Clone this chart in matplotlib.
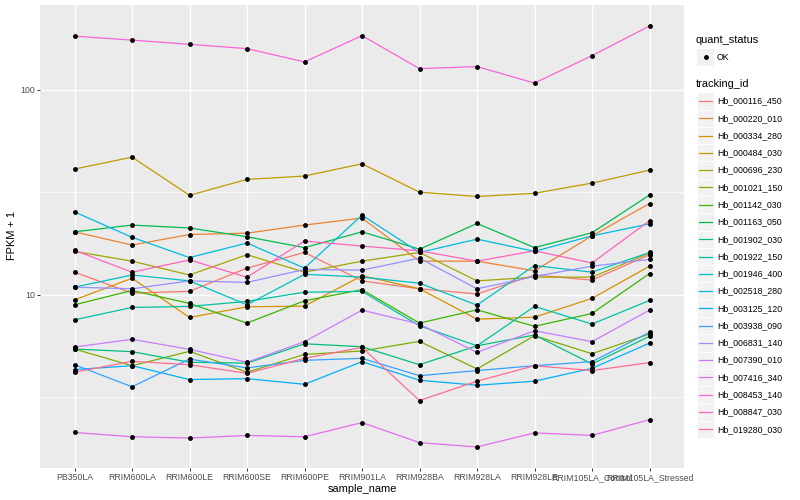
import matplotlib
matplotlib.use("Agg")
import numpy as np
import matplotlib.pyplot as plt
from matplotlib.lines import Line2D
from matplotlib.patches import Rectangle

plt.rcParams['font.family'] = ['Liberation Sans', 'DejaVu Sans']

# x categories
samples = ["PB350LA", "RRIM600LA", "RRIM600LE", "RRIM600SE", "RRIM600PE", "RRIM901LA",
           "RRIM928BA", "RRIM928LA", "RRIM928LE", "RRIM105LA_Control", "RRIM105LA_Stressed"]

tracking_ids = ["Hb_000116_450", "Hb_000220_010", "Hb_000334_280", "Hb_000484_030",
                "Hb_000696_230", "Hb_001021_150", "Hb_001142_030", "Hb_001163_050",
                "Hb_001902_030", "Hb_001922_150", "Hb_001946_400", "Hb_002518_280",
                "Hb_003125_120", "Hb_003938_090", "Hb_006831_140", "Hb_007390_010",
                "Hb_007416_340", "Hb_008453_140", "Hb_008847_030", "Hb_019280_030"]

# ggplot default hue palette for 20 levels
hue_colors = ["#F8766D", "#EA8331", "#D89000", "#C09B00", "#A3A500", "#7CAE00", "#39B600",
              "#00BB4E", "#00BF7D", "#00C1A3", "#00BFC4", "#00BAE0", "#00B0F6", "#35A2FF",
              "#9590FF", "#C77CFF", "#E76BF3", "#FA62DB", "#FF62BC", "#FF6C91"]

# FPKM + 1, one list per gene, in sample order
hb_000116_450 = [12.9, 10.2, 10.4, 13.5, 16.1, 11.7, 10.7, 10.1, 12.5, 11.8, 15.7]
hb_000220_010 = [20.3, 17.5, 19.7, 20.0, 21.9, 23.7, 14.6, 14.6, 13.1, 19.4, 27.9]
hb_000334_280 = [9.45, 12.05, 7.76, 8.74, 8.81, 12.4, 10.7, 7.61, 7.78, 9.61, 13.8]
hb_000484_030 = [41.1, 47.0, 30.6, 36.6, 38.0, 43.6, 31.7, 30.2, 31.3, 35.1, 40.6]
hb_000696_230 = [16.3, 14.6, 12.5, 15.7, 12.9, 14.6, 16.1, 11.7, 12.2, 12.2, 16.0]
hb_001021_150 = [5.44, 4.51, 5.30, 4.19, 5.12, 5.32, 5.93, 4.35, 6.32, 5.16, 6.44]
hb_001142_030 = [8.94, 10.5, 9.08, 7.28, 9.35, 10.6, 7.28, 8.45, 7.02, 8.11, 12.7]
hb_001163_050 = [20.3, 21.9, 21.2, 19.2, 17.0, 20.3, 16.7, 22.3, 17.0, 20.1, 30.7]
hb_001902_030 = [5.44, 5.28, 4.69, 4.64, 5.77, 5.58, 4.56, 5.64, 6.37, 4.60, 6.27]
hb_001922_150 = [7.55, 8.68, 8.78, 9.29, 10.3, 10.4, 7.06, 5.64, 8.78, 7.20, 9.39]
hb_001946_400 = [10.9, 12.5, 11.7, 8.94, 12.6, 12.2, 11.4, 8.91, 13.9, 12.9, 16.1]
hb_002518_280 = [25.4, 19.1, 15.2, 17.9, 13.5, 24.5, 16.1, 18.7, 16.3, 19.4, 22.2]
hb_003125_120 = [4.32, 4.51, 3.86, 3.90, 3.66, 4.72, 3.83, 3.62, 3.79, 4.38, 5.81]
hb_003938_090 = [4.56, 3.56, 4.86, 4.40, 4.79, 4.90, 4.03, 4.27, 4.51, 4.72, 6.56]
hb_006831_140 = [10.9, 10.7, 11.7, 11.5, 13.3, 13.2, 15.1, 10.7, 12.3, 13.8, 14.9]
hb_007390_010 = [5.56, 6.07, 5.42, 4.69, 5.91, 8.42, 7.20, 5.24, 6.68, 5.91, 8.42]
hb_007416_340 = [2.13, 2.03, 2.00, 2.06, 2.03, 2.38, 1.90, 1.81, 2.12, 2.06, 2.46]
hb_008453_140 = [183, 175, 167, 159, 137, 184, 127, 130, 108, 147, 205]
hb_008847_030 = [16.5, 12.9, 14.8, 12.2, 18.3, 17.3, 16.4, 14.6, 16.4, 14.3, 23.0]
hb_019280_030 = [4.19, 4.74, 4.56, 4.14, 4.90, 5.54, 3.05, 3.79, 4.51, 4.27, 4.67]

series = [hb_000116_450, hb_000220_010, hb_000334_280, hb_000484_030, hb_000696_230,
          hb_001021_150, hb_001142_030, hb_001163_050, hb_001902_030, hb_001922_150,
          hb_001946_400, hb_002518_280, hb_003125_120, hb_003938_090, hb_006831_140,
          hb_007390_010, hb_007416_340, hb_008453_140, hb_008847_030, hb_019280_030]

W, H = 800, 500
TICK_FS = 6.3
TITLE_FS = 7.9
GREY30 = "#4D4D4D"
POINT_MS = 2.5


def fx(px):
    return px / W


def fy(py):
    return 1 - py / H


def draw_panel(ax):
    x = np.arange(len(samples))
    for vals, col in zip(series, hue_colors):
        ax.plot(x, vals, color=col, lw=0.9, zorder=3, solid_capstyle="butt")
    for vals in series:
        ax.plot(x, vals, ls="none", marker="o", ms=POINT_MS, color="black", zorder=4)

    ax.set_yscale("log")
    all_vals = np.log10(np.concatenate([np.asarray(s, float) for s in series]))
    lo, hi = all_vals.min(), all_vals.max()
    pad = (hi - lo) * 0.05
    ax.set_ylim(10 ** (lo - pad), 10 ** (hi + pad))
    ax.set_xlim(-0.6, len(samples) - 0.4)

    ax.set_facecolor("#EBEBEB")
    for s in ax.spines.values():
        s.set_visible(False)
    ax.set_yticks([10, 100])
    ax.set_yticklabels(["10", "100"])
    ax.set_yticks([10 ** 0.5, 10 ** 1.5], minor=True)
    ax.yaxis.set_minor_formatter(plt.NullFormatter())
    ax.set_xticks(x)
    ax.set_xticklabels(samples)
    ax.grid(True, which="major", color="white", lw=1.0, zorder=0)
    ax.grid(True, which="minor", axis="y", color="white", lw=0.5, zorder=0)
    ax.set_axisbelow(True)
    ax.tick_params(which="major", length=2.0, width=0.7, color="#333333",
                   labelsize=TICK_FS, labelcolor=GREY30, pad=1.5)
    ax.tick_params(which="minor", length=0)


def draw_legend(fig):
    fig.text(fx(696), fy(40), "quant_status", fontsize=TITLE_FS, va="center", ha="left")
    fig.patches.append(Rectangle((fx(697), fy(66)), 17.3 / W, 17.3 / H,
                                 transform=fig.transFigure, facecolor="#F2F2F2",
                                 edgecolor="none"))
    fig.lines.append(Line2D([fx(705.6)], [fy(57.4)], transform=fig.transFigure,
                            marker="o", ms=POINT_MS, color="black", ls="none"))
    fig.text(fx(717), fy(57.4), "OK", fontsize=TICK_FS, va="center", ha="left")

    fig.text(fx(696), fy(84), "tracking_id", fontsize=TITLE_FS, va="center", ha="left")
    step = 17.28
    for i, (tid, col) in enumerate(zip(tracking_ids, hue_colors)):
        cy = 101 + step * i
        fig.patches.append(Rectangle((fx(697), fy(cy + step / 2)), 17.3 / W, step / H,
                                     transform=fig.transFigure, facecolor="#F2F2F2",
                                     edgecolor="white", lw=0.6))
        fig.lines.append(Line2D([fx(699), fx(712)], [fy(cy), fy(cy)],
                                transform=fig.transFigure, color=col, lw=0.9))
        fig.text(fx(717), fy(cy), tid, fontsize=TICK_FS, va="center", ha="left")


def main():
    fig = plt.figure(figsize=(W / 100, H / 100), dpi=100)
    ax = fig.add_axes([fx(40), fy(468), (684 - 40) / W, (468 - 5) / H])
    draw_panel(ax)

    fig.text(fx(362), fy(489), "sample_name", fontsize=TITLE_FS, ha="center", va="center")
    fig.text(fx(12), fy(236), "FPKM + 1", fontsize=TITLE_FS, ha="center", va="center",
             rotation=90)
    draw_legend(fig)

    fig.savefig("out.png", dpi=100)


if __name__ == "__main__":
    main()
